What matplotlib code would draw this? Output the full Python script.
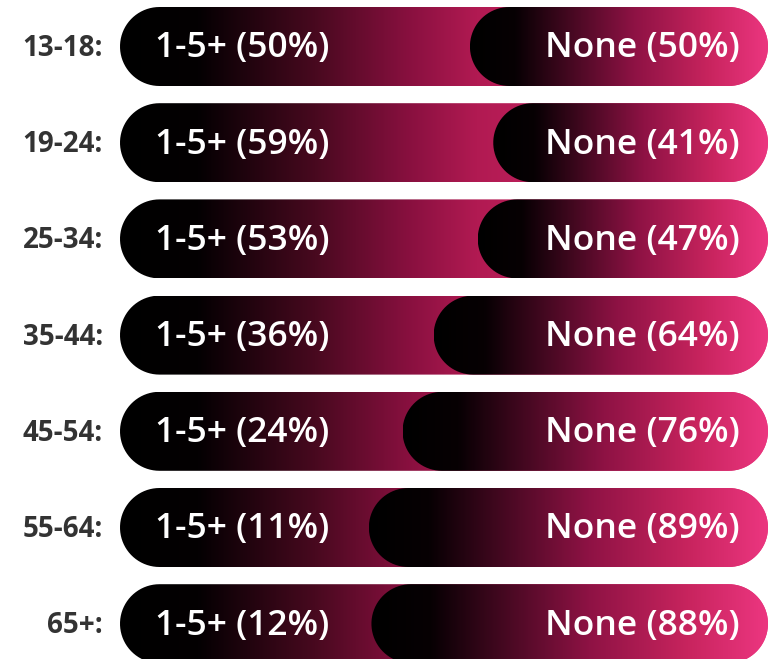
import matplotlib
matplotlib.use("Agg")
import matplotlib.pyplot as plt
import numpy as np
from matplotlib.colors import LinearSegmentedColormap
from matplotlib.path import Path
from matplotlib.patches import PathPatch

# data
age_groups = ["13-18:", "19-24:", "25-34:", "35-44:", "45-54:", "55-64:", "65+:"]
some_pct = [50, 59, 53, 36, 24, 11, 12]
none_pct = [50, 41, 47, 64, 76, 89, 88]
some_label = "1-5+"
none_label = "None"

# layout: each segment gets room for its text plus its share
LEFT_PAD = 85
RIGHT_PAD = 65
TOTAL = LEFT_PAD + 100 + RIGHT_PAD

W, H = 771, 659
BAR_X0, BAR_X1 = 120, 768          # pixels
ROW0, ROW_STEP, BAR_H = 46.5, 96.2, 79

px_x = TOTAL / (BAR_X1 - BAR_X0)   # x units per pixel
px_y = 1 / ROW_STEP                # y units per pixel

full_cmap = LinearSegmentedColormap.from_list("full", [
    (0.0, "#000000"), (0.12, "#040002"), (0.3, "#48091f"),
    (0.45, "#8a1040"), (0.55, "#b11a52"), (1.0, "#e8327a")])
none_cmap = LinearSegmentedColormap.from_list("none", [
    (0.0, "#000000"), (0.15, "#070003"), (0.55, "#8e1244"),
    (0.8, "#c8245e"), (1.0, "#ec3680")])

FONT = ["Open Sans", "DejaVu Sans"]


def stadium(x0, x1, yc, h):
    rx = (BAR_H / 2) * px_x
    ry = h / 2
    t = np.linspace(-np.pi / 2, np.pi / 2, 40)
    right = np.column_stack([x1 - rx + rx * np.cos(t), yc + ry * np.sin(t)])
    left = np.column_stack([x0 + rx - rx * np.cos(t), yc - ry * np.sin(t)])
    verts = np.vstack([right, left, right[:1]])
    codes = [Path.MOVETO] + [Path.LINETO] * (len(verts) - 2) + [Path.CLOSEPOLY]
    return Path(verts, codes)


def gradient_bar(ax, x0, x1, yc, h, cmap, z):
    patch = PathPatch(stadium(x0, x1, yc, h), facecolor="none", edgecolor="none")
    ax.add_patch(patch)
    grad = np.linspace(0, 1, 512).reshape(1, -1)
    im = ax.imshow(grad, cmap=cmap, aspect="auto", interpolation="bicubic",
                   extent=(x0, x1, yc + h / 2, yc - h / 2), zorder=z)
    im.set_clip_path(patch)


fig = plt.figure(figsize=(W / 100, H / 100), dpi=100)
ax = fig.add_axes([0, 0, 1, 1])
ax.axis("off")

h = BAR_H * px_y
for i, grp in enumerate(age_groups):
    start = LEFT_PAD + some_pct[i]
    gradient_bar(ax, 0, TOTAL, i, h, full_cmap, 1)
    gradient_bar(ax, start, TOTAL, i, h, none_cmap, 2)

    ax.text(-17 * px_x, i + 0.02, grp, ha="right", va="center", fontsize=20,
            fontweight="bold", color="#333333", family=FONT)
    ax.text(35 * px_x, i + 0.02, f"{some_label} ({some_pct[i]}%)", ha="left",
            va="center", fontsize=25.5, fontweight="semibold", color="white",
            family=FONT, zorder=3)
    ax.text(TOTAL - 28 * px_x, i + 0.02, f"{none_label} ({none_pct[i]}%)",
            ha="right", va="center", fontsize=25.5, fontweight="semibold",
            color="white", family=FONT, zorder=3)

ax.set_xlim(-BAR_X0 * px_x, (W - BAR_X0) * px_x)
ax.set_ylim((H - ROW0) * px_y, -ROW0 * px_y)
fig.savefig("out.png", dpi=100, facecolor="white")
